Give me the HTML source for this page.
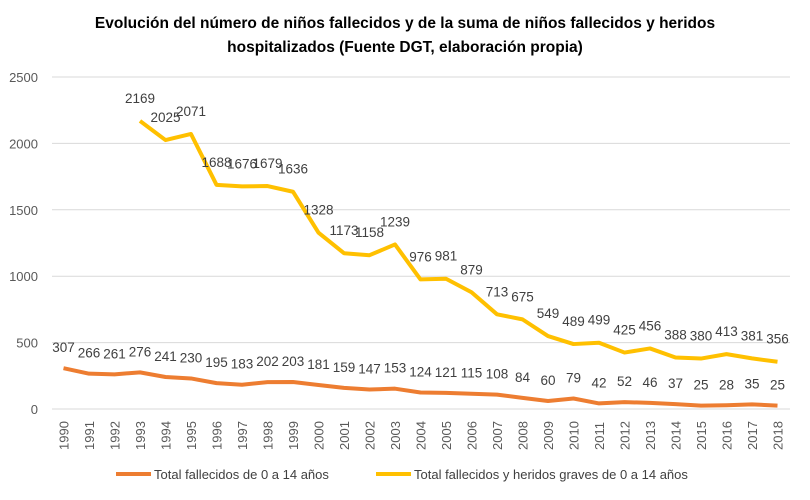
<!DOCTYPE html>
<html><head><meta charset="utf-8"><style>
body{margin:0;background:#fff;font-family:"Liberation Sans",Arial,sans-serif}
svg text{font-family:"Liberation Sans",Arial,sans-serif}
</style></head><body>
<svg id="c" width="810" height="495">
<text x="405" y="28" text-anchor="middle" font-size="15.5" font-weight="bold" fill="#000">Evolución del número de niños fallecidos y de la suma de niños fallecidos y heridos</text>
<text x="405" y="52" text-anchor="middle" font-size="15.5" font-weight="bold" fill="#000">hospitalizados (Fuente DGT, elaboración propia)</text>
<g id="grid"></g><g id="series"></g><g id="labels"></g>
<g>
<line x1="116" y1="474" x2="151" y2="474" stroke="#ED7D31" stroke-width="4"/>
<text x="154" y="479" font-size="13" fill="#404040">Total fallecidos de 0 a 14 años</text>
<line x1="376" y1="474" x2="411" y2="474" stroke="#FFC000" stroke-width="4"/>
<text x="414" y="479" font-size="13" fill="#404040">Total fallecidos y heridos graves de 0 a 14 años</text>
</g>
</svg>
<script>
const years=[1990,1991,1992,1993,1994,1995,1996,1997,1998,1999,2000,2001,2002,2003,2004,2005,2006,2007,2008,2009,2010,2011,2012,2013,2014,2015,2016,2017,2018];
const fallecidos=[307,266,261,276,241,230,195,183,202,203,181,159,147,153,124,121,115,108,84,60,79,42,52,46,37,25,28,35,25];
const heridos=[null,null,null,2169,2025,2071,1688,1676,1679,1636,1328,1173,1158,1239,976,981,879,713,675,549,489,499,425,456,388,380,413,381,356];
const yTicks=[0,500,1000,1500,2000,2500];
const NS="http://www.w3.org/2000/svg";
const X=i=>63.5+i*25.5;
const Y=v=>409-v*(332/2500);
function mk(t,a,p){const e=document.createElementNS(NS,t);for(const k in a)e.setAttribute(k,a[k]);p.appendChild(e);return e;}
const g=document.getElementById('grid'),s=document.getElementById('series'),l=document.getElementById('labels');
yTicks.forEach(v=>{
 const ln=mk('line',{x1:52,x2:790,y1:Y(v),y2:Y(v),stroke:'#d9d9d9','stroke-width':1},g);
 
 
 const t=mk('text',{x:38,y:Y(v)+5,'text-anchor':'end','font-size':13,fill:'#595959'},g);t.textContent=v;
 
 
});
years.forEach((y,i)=>{
 const t=mk('text',{transform:`translate(${X(i)+5},450) rotate(-90)`,'font-size':13,fill:'#595959'},g);t.textContent=y;
 
 
});
function series(vals,col,name,off){
 let d='';vals.forEach((v,i)=>{if(v==null)return;d+=(d?'L':'M')+X(i)+','+Y(v);});
 const p=mk('path',{d:d,fill:'none',stroke:col,'stroke-width':4,'stroke-linejoin':'round'},s);
 
 
 vals.forEach((v,i)=>{if(v==null)return;
  const t=mk('text',{x:X(i),y:Y(v)-off,'text-anchor':'middle','font-size':13.5,fill:'#404040'},l);t.textContent=v;
  
  
 });
}
series(fallecidos,'#ED7D31','fallecidos',16);
series(heridos,'#FFC000','fallecidos-heridos',18);
</script>
</body></html>
